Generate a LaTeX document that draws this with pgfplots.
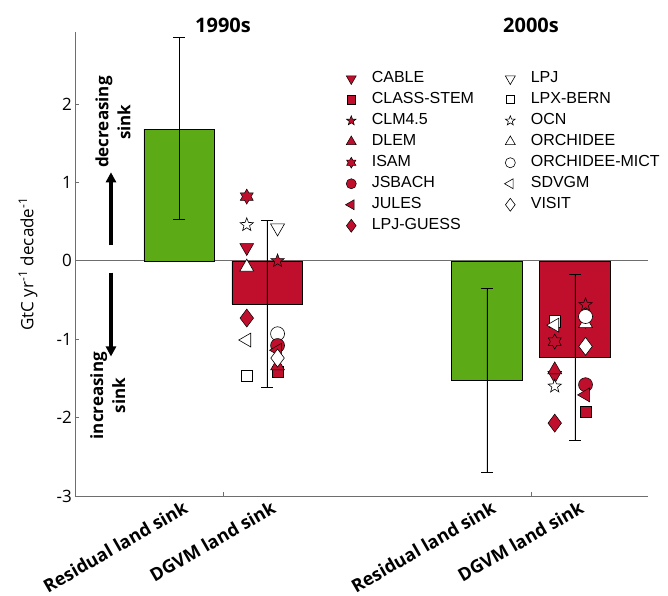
\documentclass[border=0pt]{standalone}
\usepackage{pgfplots}
\pgfplotsset{compat=1.18}
\usepackage{fontspec}
\setmainfont{Open Sans}
\newfontfamily\legfont{Liberation Sans}
\usetikzlibrary{arrows.meta}

\definecolor{barred}{RGB}{192,14,45}
\definecolor{bargreen}{RGB}{92,170,22}
\definecolor{axgray}{RGB}{110,110,110}

\pgfdeclareplotmark{pent}{%
 \pgfpathmoveto{\pgfpointpolar{90}{\pgfplotmarksize}}%
 \pgfpathlineto{\pgfpointpolar{126}{0.42\pgfplotmarksize}}%
 \pgfpathlineto{\pgfpointpolar{162}{\pgfplotmarksize}}%
 \pgfpathlineto{\pgfpointpolar{198}{0.42\pgfplotmarksize}}%
 \pgfpathlineto{\pgfpointpolar{234}{\pgfplotmarksize}}%
 \pgfpathlineto{\pgfpointpolar{270}{0.42\pgfplotmarksize}}%
 \pgfpathlineto{\pgfpointpolar{306}{\pgfplotmarksize}}%
 \pgfpathlineto{\pgfpointpolar{342}{0.42\pgfplotmarksize}}%
 \pgfpathlineto{\pgfpointpolar{18}{\pgfplotmarksize}}%
 \pgfpathlineto{\pgfpointpolar{54}{0.42\pgfplotmarksize}}%
 \pgfpathclose\pgfusepathqfillstroke}
\pgfdeclareplotmark{hexa}{%
 \pgfpathmoveto{\pgfpointpolar{90}{\pgfplotmarksize}}%
 \pgfpathlineto{\pgfpointpolar{120}{0.577\pgfplotmarksize}}%
 \pgfpathlineto{\pgfpointpolar{150}{\pgfplotmarksize}}%
 \pgfpathlineto{\pgfpointpolar{180}{0.577\pgfplotmarksize}}%
 \pgfpathlineto{\pgfpointpolar{210}{\pgfplotmarksize}}%
 \pgfpathlineto{\pgfpointpolar{240}{0.577\pgfplotmarksize}}%
 \pgfpathlineto{\pgfpointpolar{270}{\pgfplotmarksize}}%
 \pgfpathlineto{\pgfpointpolar{300}{0.577\pgfplotmarksize}}%
 \pgfpathlineto{\pgfpointpolar{330}{\pgfplotmarksize}}%
 \pgfpathlineto{\pgfpointpolar{0}{0.577\pgfplotmarksize}}%
 \pgfpathlineto{\pgfpointpolar{30}{\pgfplotmarksize}}%
 \pgfpathlineto{\pgfpointpolar{60}{0.577\pgfplotmarksize}}%
 \pgfpathclose\pgfusepathqfillstroke}

\pgfplotsset{
 redm/.style={only marks, mark options={fill=barred, draw=black, line width=0.5bp}},
 whim/.style={only marks, mark options={fill=white, draw=black, line width=0.6bp}},
 rot/.style={/tikz/every mark/.append style={rotate=#1}},
}

\begin{document}
\begin{tikzpicture}
\begin{axis}[
 scale only axis, width=573bp, height=464bp,
 xmin=-1.182, xmax=5.33, ymin=-3, ymax=2.92,
 axis x line=bottom, axis y line=left,
 axis line style={axgray, line width=0.8bp, -},
 clip=false,
 xtick={0.5,4}, xticklabels={},
 extra x ticks={0,1,3.5,4.5},
 extra x tick labels={Residual land sink, DGVM land sink, Residual land sink, DGVM land sink},
 extra x tick style={major tick length=0pt, tick style={draw=none},
   tick label style={rotate=30, anchor=north east, inner sep=1bp, xshift=2bp, yshift=-4bp, font=\fontsize{18bp}{20bp}\selectfont\bfseries}},
 ytick={-3,-2,-1,0,1,2},
 y tick label style={font=\fontsize{17bp}{20bp}\selectfont, inner sep=3bp},
 /pgf/number format/assume math mode=true,
 tick align=inside, major tick length=4bp, tick style={axgray, line width=0.8bp},
 ylabel={GtC yr\textsuperscript{-1} decade\textsuperscript{-1}},
 ylabel style={at={(axis description cs:-0.082,0.5)}, anchor=center, font=\fontsize{17bp}{20bp}\selectfont},
 legend columns=2,
 legend cell align=left,
 legend style={at={(axis cs:1.89,2.46)}, anchor=north west, draw=none, fill=none,
   font=\fontsize{16bp}{19bp}\selectfont\legfont, inner sep=0pt, row sep=0pt,
   nodes={inner sep=2.5bp, text height=12bp, text depth=4bp},
   /tikz/every odd column/.append style={column sep=13bp},
   /tikz/every even column/.append style={column sep=28bp}},
 legend image post style={/tikz/every mark/.append style={scale=0.72}},
]
\draw[axgray, line width=0.8bp] (axis cs:-1.182,0) -- (axis cs:5.33,0);
% bars with error bars
\addplot[forget plot, ybar, bar width=0.8, bar shift=0pt, fill=bargreen, draw=black, line width=0.6bp,
  error bars/.cd, y dir=both, y explicit,
  error bar style={black, line width=0.8bp},
  error mark options={rotate=90, mark size=6bp, black, line width=0.8bp}]
  coordinates {(0,1.68) += (0,1.17) -= (0,1.15) (3.5,-1.53) += (0,1.18) -= (0,1.17)};
\addplot[forget plot, ybar, bar width=0.8, bar shift=0pt, fill=barred, draw=black, line width=0.6bp,
  error bars/.cd, y dir=both, y explicit,
  error bar style={black, line width=0.8bp},
  error mark options={rotate=90, mark size=6bp, black, line width=0.8bp}]
  coordinates {(1,-0.55) += (0,1.07) -= (0,1.07) (4.5,-1.23) += (0,1.06) -= (0,1.06)};

% model markers (legend order arranged for two columns)
\addplot[redm, rot=180, mark=triangle*, mark size=8bp] coordinates {(0.77,0.17) (4.27,-1.46)};
\addlegendentry{CABLE}
\addplot[whim, rot=180, mark=triangle*, mark size=8bp] coordinates {(1.12,0.42) (4.62,-0.76)};
\addlegendentry{LPJ}
\addplot[redm, mark=square*, mark size=5.6bp] coordinates {(1.12,-1.41) (4.62,-1.92)};
\addlegendentry{CLASS-STEM}
\addplot[whim, mark=square*, mark size=5.6bp] coordinates {(0.77,-1.47) (4.27,-0.77)};
\addlegendentry{LPX-BERN}
\addplot[redm, mark=pent, mark size=7bp] coordinates {(1.12,0.0) (4.62,-0.56)};
\addlegendentry{CLM4.5}
\addplot[whim, mark=pent, mark size=7bp] coordinates {(0.77,0.46) (4.27,-1.60)};
\addlegendentry{OCN}
\addplot[redm, mark=triangle*, mark size=8bp] coordinates {(1.12,-1.34) (4.27,-1.39)};
\addlegendentry{DLEM}
\addplot[whim, mark=triangle*, mark size=8bp] coordinates {(0.77,-0.08) (4.62,-0.80)};
\addlegendentry{ORCHIDEE}
\addplot[redm, mark=hexa, mark size=7.5bp] coordinates {(0.77,0.82) (4.27,-1.03)};
\addlegendentry{ISAM}
\addplot[whim, mark=*, mark size=7bp] coordinates {(1.12,-0.93) (4.62,-0.71)};
\addlegendentry{ORCHIDEE-MICT}
\addplot[redm, mark=*, mark size=7bp] coordinates {(1.12,-1.08) (4.62,-1.58)};
\addlegendentry{JSBACH}
\addplot[whim, rot=90, mark=triangle*, mark size=8bp] coordinates {(0.77,-1.01) (4.27,-0.82)};
\addlegendentry{SDVGM}
\addplot[redm, rot=90, mark=triangle*, mark size=8bp] coordinates {(1.12,-1.14) (4.62,-1.71)};
\addlegendentry{JULES}
\addplot[whim, mark=diamond*, mark size=9bp] coordinates {(1.12,-1.24) (4.62,-1.09)};
\addlegendentry{VISIT}
\addplot[redm, mark=diamond*, mark size=9bp] coordinates {(0.77,-0.73) (4.27,-2.07)};
\addlegendentry{LPJ-GUESS}

% annotations
\node[font=\fontsize{20bp}{24bp}\selectfont\bfseries] at (axis cs:0.5,3.0) {1990s};
\node[font=\fontsize{20bp}{24bp}\selectfont\bfseries] at (axis cs:4.0,3.0) {2000s};
\draw[-{Triangle[length=10bp,width=10bp]}, line width=3.5bp] (axis cs:-0.773,0.2) -- (axis cs:-0.773,1.13);
\draw[-{Triangle[length=10bp,width=10bp]}, line width=3.5bp] (axis cs:-0.773,-0.15) -- (axis cs:-0.773,-1.22);
\node[rotate=90, align=center, font=\fontsize{17bp}{22bp}\selectfont\bfseries] at (axis cs:-0.75,1.77) {decreasing\\sink};
\node[rotate=90, align=center, font=\fontsize{17bp}{22bp}\selectfont\bfseries] at (axis cs:-0.81,-1.72) {increasing\\sink};
\end{axis}
\pgfresetboundingbox
\path[use as bounding box] (-75bp,-100bp) rectangle (593bp,496bp);
\end{tikzpicture}
\end{document}
